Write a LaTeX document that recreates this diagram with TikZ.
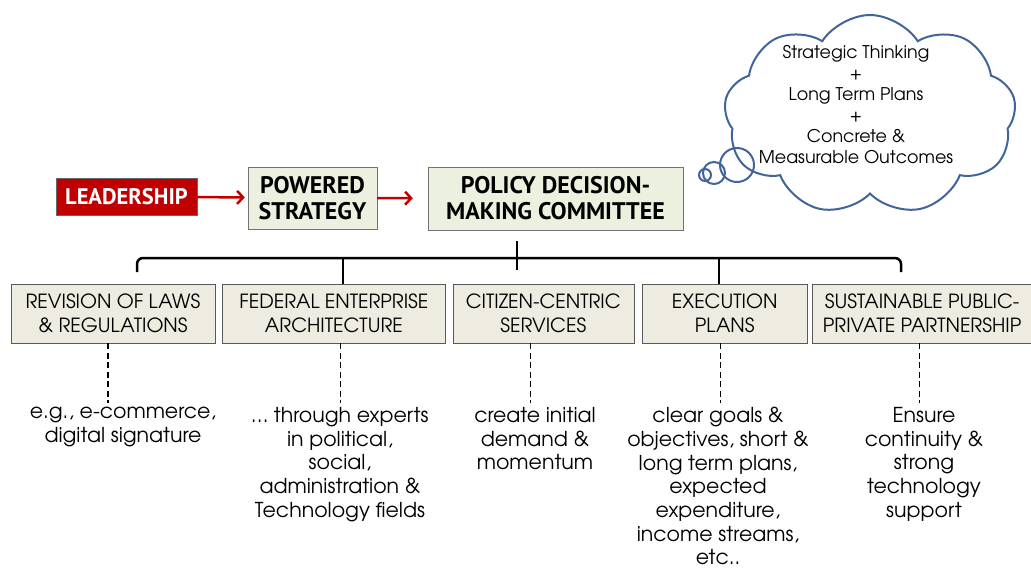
\documentclass[tikz,border=0pt]{standalone}
\usepackage{fontspec}
\setmainfont{texgyreadventor}[Extension=.otf, UprightFont=*-regular, BoldFont=*-bold]
\newfontfamily\headfont{PT Sans}
\usetikzlibrary{arrows.meta}
\usetikzlibrary{positioning}
\usetikzlibrary{shapes.symbols}

\definecolor{leadred}{HTML}{C00000}
\definecolor{topfill}{HTML}{EBF1DE}
\definecolor{rowfill}{HTML}{EEECE1}
\definecolor{cloudblue}{HTML}{41649A}

\tikzset{
  leadbox/.style={draw=black!60, fill=leadred, text=white, font=\headfont\bfseries\fontsize{22.5}{24}\selectfont,
    minimum width=141pt, minimum height=37pt, inner sep=0pt},
  topbox/.style={draw=black!55, fill=topfill, align=center, inner sep=0pt,
    font=\headfont\bfseries\fontsize{24}{26}\selectfont},
  rowbox/.style={draw=black!65, fill=rowfill, align=center, inner sep=0pt, minimum height=59pt,
    font=\fontsize{19.5}{24}\selectfont},
  note/.style={align=center, anchor=north, inner sep=0pt, font=\fontsize{20.5}{23.7}\selectfont},
  redarrow/.style={-{Straight Barb[length=6pt,width=13pt]}, draw=leadred, line width=2.5pt},
  bracket/.style={line width=2.5pt, rounded corners=6pt},
  dashline/.style={line width=1.2pt, dash pattern=on 6pt off 3.5pt, shorten >=4pt},
  cloudline/.style={draw=cloudblue, line width=2pt}
}

\begin{document}
\begin{tikzpicture}[x=1pt,y=-1pt]
  \useasboundingbox (0,0) rectangle (1031,568);
  % thought cloud
  \node[cloud, cloudline, cloud puffs=9, cloud puff arc=115, cloud ignores aspect,
    minimum width=292pt, minimum height=200pt] (cloud) at (870,115) {};
  \draw[cloudline] (705,175) circle[radius=6pt];
  \draw[cloudline] (714,173) circle[radius=11pt];
  \draw[cloudline] (737,165) circle[radius=17pt];
  \node[align=center, font=\fontsize{17.5}{21}\selectfont] (think) at (856,105)
    {Strategic Thinking\\+\\Long Term Plans\\+\\Concrete \&\\Measurable Outcomes};

  % top row
  \node[leadbox] (lead) at (126.5,196.5) {LEADERSHIP};
  \node[topbox, minimum width=129pt, minimum height=62pt] (strat) at (312.5,198) {POWERED\\STRATEGY};
  \node[topbox, minimum width=255pt, minimum height=63pt] (cmte) at (555.5,198.5) {POLICY DECISION-\\MAKING COMMITTEE};
  \draw[redarrow, shorten >=3pt] (lead) -- (strat);
  \draw[redarrow, shorten >=15pt] (strat) -- (cmte);

  % second row
  \node[rowbox, minimum width=204pt] (rev) at (113,313.5) {REVISION OF LAWS\\\& REGULATIONS};
  \node[rowbox, minimum width=223pt] (fea) [right=7pt of rev] {FEDERAL ENTERPRISE\\ARCHITECTURE};
  \node[rowbox, minimum width=181pt] (cit) [right=7pt of fea] {CITIZEN-CENTRIC\\SERVICES};
  \node[rowbox, minimum width=165pt] (exe) [right=8pt of cit] {EXECUTION\\PLANS};
  \node[rowbox, minimum width=219pt] (ppp) [right=5pt of exe] {SUSTAINABLE PUBLIC-\\PRIVATE PARTNERSHIP};

  % bracket
  \coordinate (bl) at (343,258);
  \coordinate (br) at (719,258);
  \draw[bracket] (137,272) -- (137,258) -- (901,258) -- (901,272);
  \draw[line width=2.5pt] (517,241) -- (517,270);
  \draw[line width=2.5pt] (bl) -- (bl |- fea.north);
  \draw[line width=2.5pt] (br) -- (br |- exe.north);

  % notes
  \node[note] (n1) at (123,407) {e.g., e-commerce,\\digital signature};
  \node[note] (n2) at (340,407) {\dots{} through experts\\in political,\\social,\\administration \&\\Technology fields};
  \node[note] (n3) at (535,407) {create initial\\demand \&\\momentum};
  \node[note] (n4) at (718,407) {clear goals \&\\objectives, short \&\\long term plans,\\expected\\expenditure,\\income streams,\\etc..};
  \node[note] (n5) at (924,407) {Ensure\\continuity \&\\strong\\technology\\support};
  \draw[dashline] ([xshift=-5pt]rev.south) -- ([xshift=-5pt]rev.south |- n1.north);
  \draw[dashline] ([xshift=6.5pt]fea.south) -- ([xshift=6.5pt]fea.south |- n2.north);
  \draw[dashline] ([xshift=-12.5pt]cit.south) -- ([xshift=-12.5pt]cit.south |- n3.north);
  \draw[dashline] ([xshift=-4.5pt]exe.south) -- ([xshift=-4.5pt]exe.south |- n4.north);
  \draw[dashline] ([xshift=-3pt]ppp.south) -- ([xshift=-3pt]ppp.south |- n5.north);
\end{tikzpicture}
\end{document}
